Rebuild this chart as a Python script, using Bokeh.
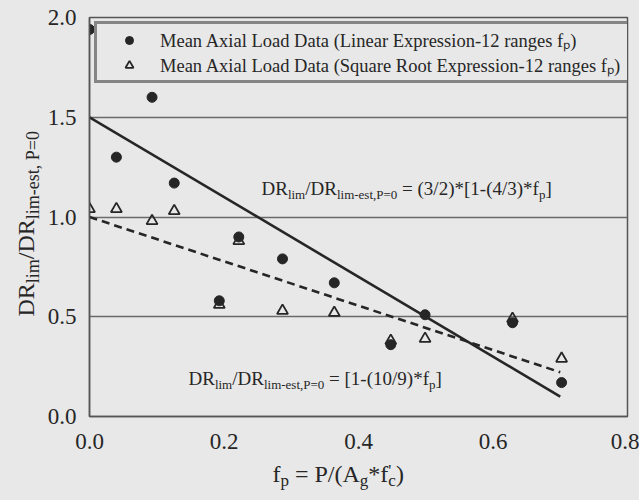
from bokeh.plotting import figure
from bokeh.layouts import row, column
from bokeh.models import Range1d, FixedTicker, Label, Legend, LegendItem
from bokeh.embed import file_html
from bokeh.resources import INLINE

# ---------------- data ----------------
fp_values = [0.0, 0.04, 0.093, 0.126, 0.193, 0.222, 0.287, 0.364, 0.448, 0.499, 0.629, 0.702]
dr_linear = [1.94, 1.30, 1.60, 1.17, 0.58, 0.90, 0.79, 0.67, 0.36, 0.51, 0.47, 0.17]
dr_sqrt = [1.04, 1.04, 0.98, 1.03, 0.56, 0.88, 0.53, 0.52, 0.38, 0.39, 0.49, 0.29]

fit_x = [0.0, 0.70]
fit_linear = [1.5, 0.10]      # (3/2)*[1-(4/3)*fp]
fit_sqrt = [1.0, 0.222]       # [1-(10/9)*fp]

x_ticks = [0.0, 0.2, 0.4, 0.6, 0.8]
x_tick_labels = ["0.0", "0.2", "0.4", "0.6", "0.8"]
y_ticks = [0.0, 0.5, 1.0, 1.5, 2.0]
y_tick_labels = ["0.0", "0.5", "1.0", "1.5", "2.0"]

legend_labels = [
    "Mean Axial Load Data (Linear Expression-12 ranges f\u209a)",
    "Mean Axial Load Data (Square Root Expression-12 ranges f\u209a)",
]

# ---------------- style ----------------
BG = "#e8e8e8"
INK = "#262626"
FRAME = "#555555"
FONT = "Liberation Serif"

# Times-compatible advance widths (per 1000 em) for composing sub/superscripts
W = {' ': 250, "'": 180, '(': 333, ')': 333, '*': 500, ',': 250, '-': 333, '.': 250,
     '/': 278, '=': 564, '[': 333, ']': 333,
     'A': 722, 'D': 722, 'P': 556, 'R': 667,
     'a': 444, 'c': 444, 'e': 444, 'f': 333, 'g': 500, 'i': 278, 'l': 278, 'm': 778,
     'p': 500, 's': 389, 't': 278}
for d in "0123456789":
    W[d] = 500


def tw(s, size):
    return sum(W.get(c, 500) for c in s) * size / 1000.0


MAIN_H = 455
YLAB_W = 44

p = figure(width=639 - YLAB_W, height=MAIN_H, x_range=Range1d(0, 0.8), y_range=Range1d(0, 2.0),
           output_backend="svg", toolbar_location=None,
           min_border_left=88 - YLAB_W, min_border_right=12, min_border_top=17,
           min_border_bottom=MAIN_H - 416,
           background_fill_color=BG, border_fill_color=BG)

p.outline_line_color = FRAME
p.outline_line_width = 1.5

for ax in (p.xaxis[0], p.yaxis[0]):
    ax.axis_line_color = FRAME
    ax.axis_line_width = 1.5
    ax.major_tick_line_color = None
    ax.minor_tick_line_color = None
    ax.major_label_text_font = FONT
    ax.major_label_text_font_size = "23px"
    ax.major_label_text_color = INK

p.xaxis.ticker = FixedTicker(ticks=x_ticks)
p.xaxis.major_label_overrides = {t: l for t, l in zip(x_ticks, x_tick_labels)}
p.xaxis.major_label_standoff = 11
p.yaxis.ticker = FixedTicker(ticks=y_ticks)
p.yaxis.major_label_overrides = {t: l for t, l in zip(y_ticks, y_tick_labels)}
p.yaxis.major_label_standoff = 7
p.yaxis.major_label_text_baseline = "hanging"

p.xgrid.grid_line_color = None
p.ygrid.ticker = FixedTicker(ticks=y_ticks)
p.ygrid.grid_line_color = "#6a6a6a"
p.ygrid.grid_line_width = 1.3

# fitted expressions
p.line(fit_x, fit_linear, line_color=INK, line_width=2.6)
p.line(fit_x, fit_sqrt, line_color=INK, line_width=2.6, line_dash="8 5")

# data
r_lin = p.scatter(fp_values, dr_linear, marker="circle", size=10,
                  fill_color=INK, line_color=INK)
r_sqrt = p.scatter(fp_values, dr_sqrt, marker="triangle", size=11,
                   fill_color=None, line_color=INK, line_width=1.8)

legend = Legend(items=[LegendItem(label=legend_labels[0], renderers=[r_lin]),
                       LegendItem(label=legend_labels[1], renderers=[r_sqrt])],
                location=(5, 333), orientation="vertical",
                label_text_font=FONT, label_text_font_size="18.5px", label_text_color=INK,
                label_height=20, glyph_height=20, glyph_width=58, label_standoff=2,
                label_width=467, padding=3, spacing=-1, margin=0,
                border_line_color="#222222", border_line_width=3,
                background_fill_color=BG, background_fill_alpha=1.0)
p.add_layout(legend)


def aux_fig(w, h):
    f = figure(width=w, height=h, x_range=Range1d(0, w), y_range=Range1d(0, h),
               output_backend="svg", toolbar_location=None, min_border=0,
               x_axis_location=None, y_axis_location=None,
               background_fill_color=BG, border_fill_color=BG)
    f.outline_line_color = None
    f.xgrid.visible = False
    f.ygrid.visible = False
    return f


def compose(fig, segs, ax, ay, x0, y0, main, sub, sub_dy, sup_dy=5, rotated=False):
    """Place text segments at data anchor (ax, ay) plus pixel offsets."""
    pos = 0.0
    for text, kind in segs:
        size = main if kind == "n" else sub
        stripped = text.lstrip(" ")
        pos += tw(text[:len(text) - len(stripped)], size)
        dy = 0 if kind == "n" else (-sub_dy if kind == "s" else sup_dy)
        if rotated:
            xo, yo = x0 - dy, y0 + pos
        else:
            xo, yo = x0 + pos, y0 + dy
        fig.add_layout(Label(x=ax, y=ay, x_units="data", y_units="data",
                             x_offset=xo, y_offset=yo, text=stripped,
                             angle=1.5707963267948966 if rotated else 0,
                             text_font=FONT, text_font_size=f"{size}px",
                             text_color=INK, text_baseline="alphabetic",
                             text_align="left"))
        if kind != "sup":
            pos += tw(stripped, size)


eq1 = [("DR", "n"), ("lim", "s"), ("/DR", "n"), ("lim-est,P=0", "s"),
       (" = (3/2)*[1-(4/3)*f", "n"), ("p", "s"), ("]", "n")]
eq2 = [("DR", "n"), ("lim", "s"), ("/DR", "n"), ("lim-est,P=0", "s"),
       (" = [1-(10/9)*f", "n"), ("p", "s"), ("]", "n")]
ylab = [("DR", "n"), ("lim", "s"), ("/DR", "n"), ("lim-est, P=0", "s")]
xlab = [("f", "n"), ("p", "s"), (" = P/(A", "n"), ("g", "s"), ("*f", "n"),
        ("'", "sup"), ("c", "s"), (")", "n")]

# equations inside the frame (offsets from data origin, in pixels)
compose(p, eq1, 0, 0, 172, 228, 19, 13, 6)
compose(p, eq2, 0, 0, 99, 38, 19, 13, 6)

# y-axis title strip
yfig = aux_fig(YLAB_W, MAIN_H)
compose(yfig, ylab, 0, 0, 25, MAIN_H - 318 - 37, 24, 18, 7, rotated=True)

# x-axis title strip
XLAB_H = 500 - MAIN_H
xfig = aux_fig(639, XLAB_H)
compose(xfig, xlab, 0, 0, 272, XLAB_H - (473 - MAIN_H), 24, 17, 7, sup_dy=3)

layout = column(row(yfig, p, styles={"background-color": BG}), xfig,
                styles={"background-color": BG})
open("out.html", "w").write(file_html(layout, INLINE))
